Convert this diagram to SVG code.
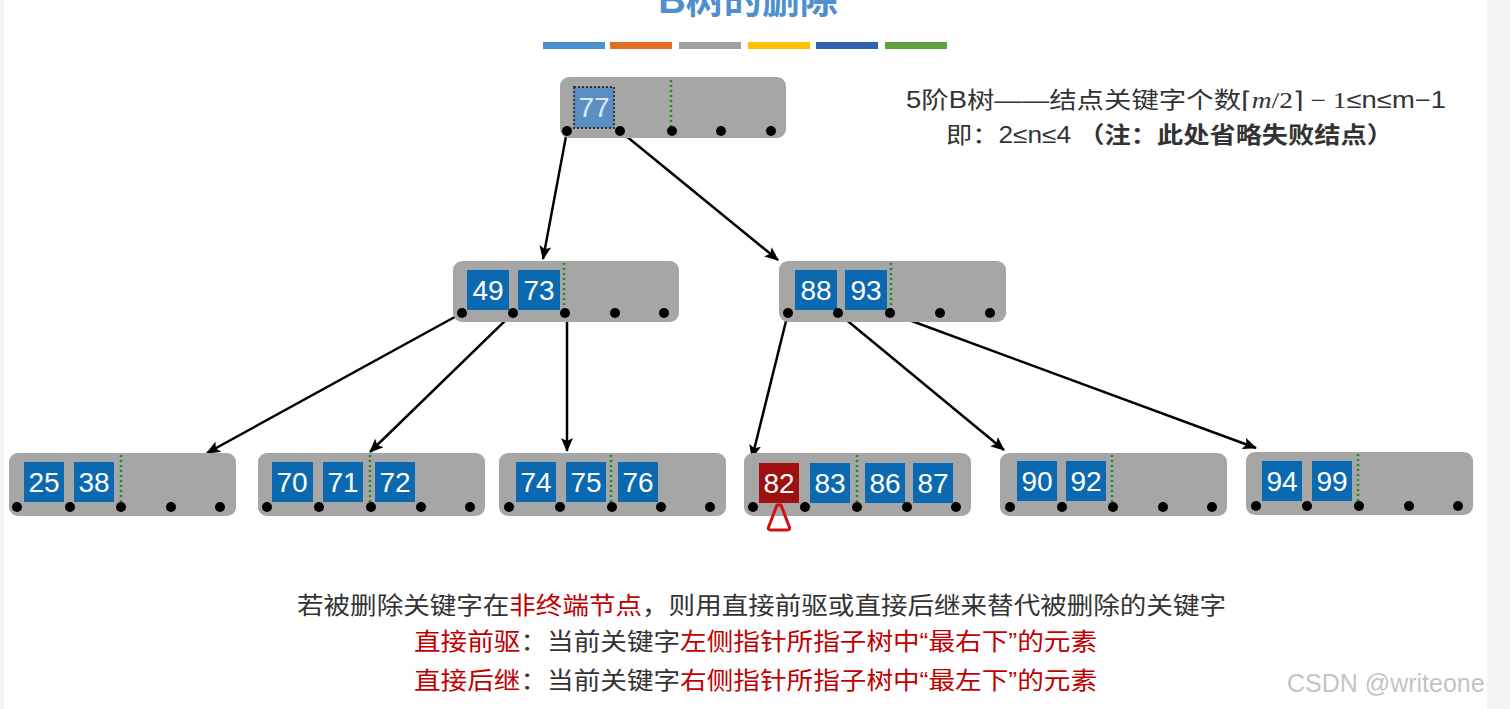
<svg xmlns="http://www.w3.org/2000/svg" width="1510" height="709" viewBox="0 0 1510 709">
<style>
.node{fill:#a6a6a6}
.key{fill:#0a69b0}
.kt{fill:#fff;font-family:"Liberation Sans",Arial,sans-serif;font-size:28px;text-anchor:middle}
.sep{stroke:#1e8c1e;stroke-width:2.5;stroke-dasharray:2 3}
.dot{fill:#000}
.conn{stroke:#000;stroke-width:2.5;fill:none;marker-end:url(#ah)}
.cjk{font-family:"Liberation Sans","Noto Sans CJK SC",sans-serif}
.g{fill:#333}
.r{fill:#c00000}
</style>
<defs>
<marker id="ah" viewBox="0 0 14 12" markerWidth="14" markerHeight="12" refX="13" refY="6" orient="auto" markerUnits="userSpaceOnUse">
<path d="M0,0 L14,6 L0,12 L3,6 z" fill="#000"/>
</marker>
</defs>
<rect x="1487" y="0" width="23" height="709" fill="#f5f5f5"/>
<rect x="0" y="0" width="4" height="709" fill="#f3f3f3"/>

<text x="748" y="13" text-anchor="middle" class="cjk" font-size="38" font-weight="bold" fill="#4f8fd0">B树的删除</text>
<g id="colorbar">
<rect x="543" y="42" width="62" height="7" fill="#4a90d0"/>
<rect x="610" y="42" width="62" height="7" fill="#e07020"/>
<rect x="679" y="42" width="62" height="7" fill="#a0a0a0"/>
<rect x="748" y="42" width="62" height="7" fill="#ffc000"/>
<rect x="816" y="42" width="62" height="7" fill="#3060b0"/>
<rect x="885" y="42" width="62" height="7" fill="#60a040"/>
</g>

<g id="info" class="cjk g" font-size="23">
<text x="906" y="108" textLength="540" lengthAdjust="spacingAndGlyphs">5阶B树——结点关键字个数<tspan font-family="Liberation Serif,serif">⌈<tspan font-style="italic">m</tspan>/2⌉ − 1</tspan>≤n≤m−1</text>
<text x="946" y="143" textLength="447" lengthAdjust="spacingAndGlyphs">即：2≤n≤4 <tspan font-weight="bold">（注：此处省略失败结点）</tspan></text>
</g>

<g id="connectors">
<line class="conn" x1="567" y1="131" x2="543" y2="259"/>
<line class="conn" x1="620" y1="131" x2="778" y2="260"/>
<line class="conn" x1="462" y1="313" x2="207" y2="453"/>
<line class="conn" x1="513" y1="313" x2="370" y2="452"/>
<line class="conn" x1="567" y1="313" x2="567" y2="451"/>
<line class="conn" x1="788" y1="313" x2="752" y2="458"/>
<line class="conn" x1="838" y1="313" x2="1004" y2="450"/>
<line class="conn" x1="890" y1="313" x2="1256" y2="448"/>
</g>

<g id="root">
<rect class="node" x="560" y="77" width="226" height="61" rx="9"/>
<rect x="574" y="87" width="40" height="41" fill="#5b8fc4" stroke="#333" stroke-width="2" stroke-dasharray="2 2"/>
<text x="594" y="117" class="kt" style="fill:#dbe8f4">77</text>
<line class="sep" x1="671" y1="80" x2="671" y2="128"/>
<circle class="dot" cx="567" cy="131" r="5"/><circle class="dot" cx="620" cy="131" r="5"/><circle class="dot" cx="672" cy="131" r="5"/><circle class="dot" cx="721" cy="131" r="5"/><circle class="dot" cx="771" cy="131" r="5"/>
</g>

<g id="mid1">
<rect class="node" x="453" y="261" width="226" height="61" rx="9"/>
<rect class="key" x="467" y="270" width="42" height="40"/><text x="488" y="300" class="kt">49</text>
<rect class="key" x="518" y="270" width="42" height="40"/><text x="539" y="300" class="kt">73</text>
<line class="sep" x1="564" y1="263" x2="564" y2="310"/>
<circle class="dot" cx="462" cy="313" r="5"/><circle class="dot" cx="513" cy="313" r="5"/><circle class="dot" cx="565" cy="313" r="5"/><circle class="dot" cx="615" cy="313" r="5"/><circle class="dot" cx="664" cy="313" r="5"/>
</g>

<g id="mid2">
<rect class="node" x="779" y="261" width="227" height="61" rx="9"/>
<rect class="key" x="795" y="270" width="42" height="40"/><text x="816" y="300" class="kt">88</text>
<rect class="key" x="845" y="270" width="42" height="40"/><text x="866" y="300" class="kt">93</text>
<line class="sep" x1="891" y1="263" x2="891" y2="310"/>
<circle class="dot" cx="788" cy="313" r="5"/><circle class="dot" cx="838" cy="313" r="5"/><circle class="dot" cx="890" cy="313" r="5"/><circle class="dot" cx="940" cy="313" r="5"/><circle class="dot" cx="990" cy="313" r="5"/>
</g>

<g id="leaf1">
<rect class="node" x="9" y="453" width="227" height="63" rx="9"/>
<rect class="key" x="24" y="462" width="40" height="40"/><text x="44" y="492" class="kt">25</text>
<rect class="key" x="74" y="462" width="40" height="40"/><text x="94" y="492" class="kt">38</text>
<line class="sep" x1="121" y1="455" x2="121" y2="502"/>
<circle class="dot" cx="17" cy="507" r="5"/><circle class="dot" cx="70" cy="507" r="5"/><circle class="dot" cx="121" cy="507" r="5"/><circle class="dot" cx="171" cy="507" r="5"/><circle class="dot" cx="220" cy="507" r="5"/>
</g>

<g id="leaf2">
<rect class="node" x="258" y="453" width="227" height="63" rx="9"/>
<rect class="key" x="272" y="462" width="41" height="40"/><text x="292" y="492" class="kt">70</text>
<rect class="key" x="323" y="462" width="40" height="40"/><text x="343" y="492" class="kt">71</text>
<rect class="key" x="375" y="462" width="40" height="40"/><text x="395" y="492" class="kt">72</text>
<line class="sep" x1="370" y1="455" x2="370" y2="502"/>
<circle class="dot" cx="267" cy="507" r="5"/><circle class="dot" cx="319" cy="507" r="5"/><circle class="dot" cx="371" cy="507" r="5"/><circle class="dot" cx="421" cy="507" r="5"/><circle class="dot" cx="470" cy="507" r="5"/>
</g>

<g id="leaf3">
<rect class="node" x="499" y="453" width="227" height="63" rx="9"/>
<rect class="key" x="516" y="462" width="40" height="40"/><text x="536" y="492" class="kt">74</text>
<rect class="key" x="566" y="462" width="40" height="40"/><text x="586" y="492" class="kt">75</text>
<rect class="key" x="618" y="462" width="40" height="40"/><text x="638" y="492" class="kt">76</text>
<line class="sep" x1="611" y1="455" x2="611" y2="502"/>
<circle class="dot" cx="509" cy="507" r="5"/><circle class="dot" cx="560" cy="507" r="5"/><circle class="dot" cx="612" cy="507" r="5"/><circle class="dot" cx="661" cy="507" r="5"/><circle class="dot" cx="710" cy="507" r="5"/>
</g>

<g id="leaf4">
<rect class="node" x="744" y="453" width="227" height="63" rx="9"/>
<rect x="759" y="463" width="40" height="40" fill="#a01010"/><text x="779" y="493" class="kt">82</text>
<rect class="key" x="810" y="463" width="40" height="40"/><text x="830" y="493" class="kt">83</text>
<rect class="key" x="865" y="463" width="40" height="40"/><text x="885" y="493" class="kt">86</text>
<rect class="key" x="913" y="463" width="40" height="40"/><text x="933" y="493" class="kt">87</text>
<line class="sep" x1="857" y1="455" x2="857" y2="503"/>
<circle class="dot" cx="753" cy="507" r="5"/><circle class="dot" cx="805" cy="507" r="5"/><circle class="dot" cx="857" cy="507" r="5"/><circle class="dot" cx="907" cy="507" r="5"/><circle class="dot" cx="956" cy="507" r="5"/>
<path d="M777,505 L781,505 L789,526 Q791,530 787,530 L771,530 Q767,530 769,526 Z" fill="none" stroke="#d01010" stroke-width="3" stroke-linejoin="round"/>
</g>

<g id="leaf5">
<rect class="node" x="1000" y="453" width="227" height="63" rx="9"/>
<rect class="key" x="1017" y="461" width="40" height="40"/><text x="1037" y="491" class="kt">90</text>
<rect class="key" x="1066" y="461" width="40" height="40"/><text x="1086" y="491" class="kt">92</text>
<line class="sep" x1="1112" y1="455" x2="1112" y2="502"/>
<circle class="dot" cx="1010" cy="507" r="5"/><circle class="dot" cx="1062" cy="507" r="5"/><circle class="dot" cx="1113" cy="507" r="5"/><circle class="dot" cx="1163" cy="507" r="5"/><circle class="dot" cx="1212" cy="507" r="5"/>
</g>

<g id="leaf6">
<rect class="node" x="1246" y="452" width="227" height="63" rx="9"/>
<rect class="key" x="1262" y="461" width="40" height="40"/><text x="1282" y="491" class="kt">94</text>
<rect class="key" x="1312" y="461" width="40" height="40"/><text x="1332" y="491" class="kt">99</text>
<line class="sep" x1="1358" y1="454" x2="1358" y2="501"/>
<circle class="dot" cx="1256" cy="506" r="5"/><circle class="dot" cx="1307" cy="506" r="5"/><circle class="dot" cx="1359" cy="506" r="5"/><circle class="dot" cx="1409" cy="506" r="5"/><circle class="dot" cx="1458" cy="506" r="5"/>
</g>

<g id="notes" class="cjk" font-size="24">
<text x="297" y="614" textLength="929" lengthAdjust="spacingAndGlyphs"><tspan class="g">若被删除关键字在</tspan><tspan class="r">非终端节点</tspan><tspan class="g">，则用直接前驱或直接后继来替代被删除的关键字</tspan></text>
<text x="414" y="650" textLength="683" lengthAdjust="spacingAndGlyphs"><tspan class="r">直接前驱</tspan><tspan class="g">：当前关键字</tspan><tspan class="r">左侧指针所指子树中“最右下”的元素</tspan></text>
<text x="414" y="689" textLength="683" lengthAdjust="spacingAndGlyphs"><tspan class="r">直接后继</tspan><tspan class="g">：当前关键字</tspan><tspan class="r">右侧指针所指子树中“最左下”的元素</tspan></text>
</g>

<text x="1287" y="692" font-family="Liberation Sans,Arial,sans-serif" font-size="25" fill="#c4c4c4">CSDN @writeone</text>
</svg>
